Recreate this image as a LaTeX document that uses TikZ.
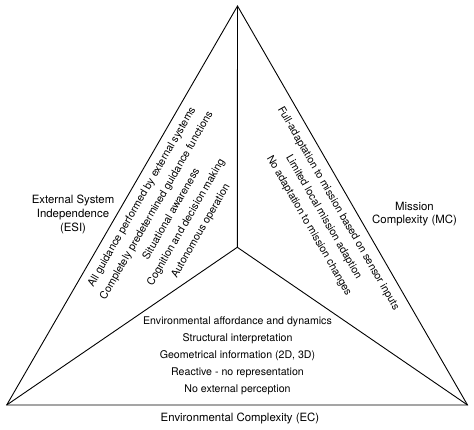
\documentclass[tikz,border=0pt]{standalone}
\usepackage{fontspec}
\setmainfont{TeX Gyre Heros}
\begin{document}
\begin{tikzpicture}[x=1pt,y=-1pt,
  edge/.style={draw=black,line width=0.9pt,line join=miter},
  items/.style={align=center,inner sep=0pt,font=\fontsize{10.6}{17}\selectfont},
  axislabel/.style={align=center,inner sep=0pt,font=\fontsize{11.4}{13.8}\selectfont}]
\useasboundingbox (0,0) rectangle (474,430);
\coordinate (top) at (237.5,6);
\coordinate (bl) at (6.7,405);
\coordinate (br) at (467.5,405);
\coordinate (c) at (237.3,247.3);
\draw[edge] (top) -- (br) -- (bl) -- cycle;
\draw[edge] (c) -- (top);
\draw[edge] (c) -- (bl);
\draw[edge] (c) -- (br);
\node[items,rotate=60] (esiitems) at (171.6,214.1) {All guidance performed by external systems\\Completely predetermined guidance functions\\Situational awareness\\Cognition and decision making\\Autonomous operation};
\node[items,rotate=-60] (mcitems) at (323.5,217.3) {Full-adaptation to mission based on sensor inputs\\Limited local mission adaption\\No adaptation to mission changes};
\node[items] (ecitems) at (237.5,355.5) {Environmental affordance and dynamics\\Structural interpretation\\Geometrical information (2D, 3D)\\Reactive - no representation\\No external perception};
\node[axislabel] (esi) at (73,214.5) {External System\\Independence\\(ESI)};
\node[axislabel] (mc) at (414.5,214) {Mission\\Complexity (MC)};
\node[axislabel] (ec) at (240,418) {Environmental Complexity (EC)};
\end{tikzpicture}
\end{document}
